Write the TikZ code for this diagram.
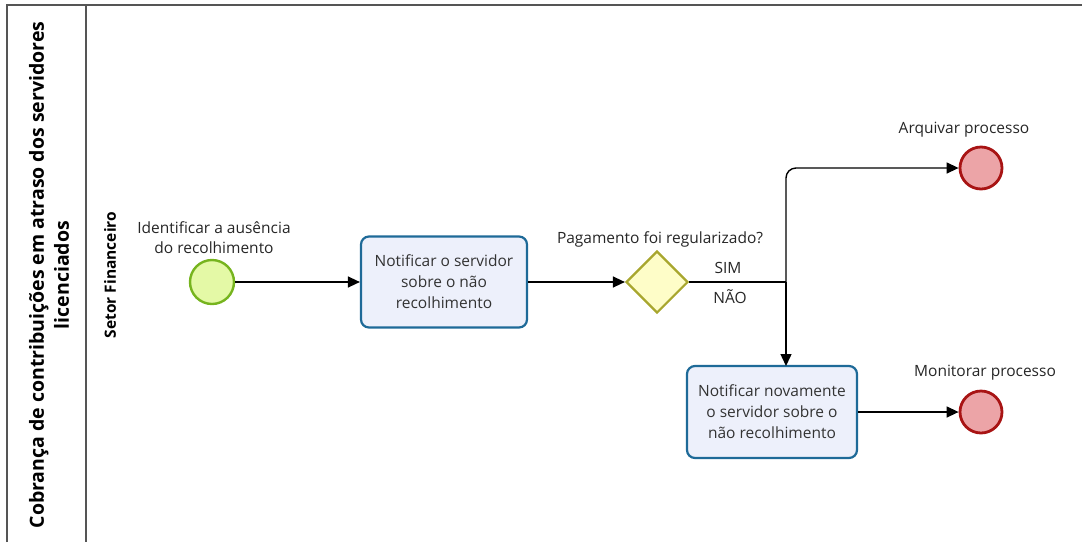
\documentclass[tikz,border=0pt]{standalone}
\usepackage{fontspec}
\setmainfont{Open Sans}
\usetikzlibrary{shapes.geometric,arrows.meta}
\definecolor{startfill}{HTML}{E4F9A6}
\definecolor{startdraw}{HTML}{76B41E}
\definecolor{taskfill}{HTML}{EDF0FB}
\definecolor{taskdraw}{HTML}{1E6A98}
\definecolor{gwfill}{HTML}{FEFDC8}
\definecolor{gwdraw}{HTML}{A8A62E}
\definecolor{endfill}{HTML}{ECA4A7}
\definecolor{enddraw}{HTML}{A81414}
\definecolor{frame}{HTML}{555555}
\tikzset{
  startev/.style={circle,draw=startdraw,fill=startfill,line width=2.4pt,minimum size=44pt,inner sep=0pt},
  endev/.style={circle,draw=enddraw,fill=endfill,line width=2.8pt,minimum size=42pt,inner sep=0pt},
  taskbox/.style={rectangle,rounded corners=8pt,draw=taskdraw,fill=taskfill,line width=2.2pt,align=center,font=\fontsize{15.5}{21}\selectfont,text=black!80},
  gw/.style={diamond,draw=gwdraw,fill=gwfill,line width=2.2pt,minimum width=62pt,minimum height=62pt,inner sep=0pt},
  lbl/.style={align=center,font=\fontsize{15.5}{20}\selectfont,text=black!85},
  flow/.style={draw=black,line width=1.4pt,-{Triangle[length=12pt,width=11pt]}},
  frameline/.style={draw=frame,line width=1.2pt}
}
\begin{document}
\begin{tikzpicture}[x=1pt,y=-1pt]
\useasboundingbox (0,0) rectangle (1082,542);
% frame
\draw[frameline] (7,542) -- (7,5) -- (1082,5);
\draw[frameline] (86,5) -- (86,542);
\node[rotate=90,align=center,font=\bfseries\fontsize{19.5}{25}\selectfont] (title) at (49,275) {Cobrança de contribuições em atraso dos servidores\\licenciados};
\node[rotate=90,font=\bfseries\fontsize{15.5}{18}\selectfont] (lane) at (110,275) {Setor Financeiro};
% nodes
\node[startev] (start) at (212,282) {};
\node[lbl] (startlbl) at (214,238) {Identificar a ausência\\do recolhimento};
\node[taskbox,minimum width=166pt,minimum height=91pt] (t1) at (444,282) {Notificar o servidor\\sobre o não\\recolhimento};
\node[gw] (gw) at (657,282) {};
\node[lbl] (gwlbl) at (660,239) {Pagamento foi regularizado?};
\node[lbl] (sim) at (728,268) {SIM};
\node[lbl] (nao) at (730,297) {NÃO};
\coordinate (split) at (786,282);
\node[endev] (e1) at (981,168) {};
\node[lbl] (e1lbl) at (964,130) {Arquivar processo};
\node[taskbox,minimum width=170pt,minimum height=92pt] (t2) at (772,412) {Notificar novamente\\o servidor sobre o\\não recolhimento};
\node[endev] (e2) at (981,412) {};
\node[lbl] (e2lbl) at (985,373) {Monitorar processo};
\coordinate (t2in) at (786,366);
% flows
\draw[flow] (start) -- (t1);
\draw[flow] (t1) -- (gw);
\draw[line width=2.8pt] (gw.east) -- (split);
\draw[flow,rounded corners=10pt] (split) -- (786,168) -- (e1);
\draw[flow] (split) -- (t2in);
\draw[flow] (t2) -- (e2);
\end{tikzpicture}
\end{document}
